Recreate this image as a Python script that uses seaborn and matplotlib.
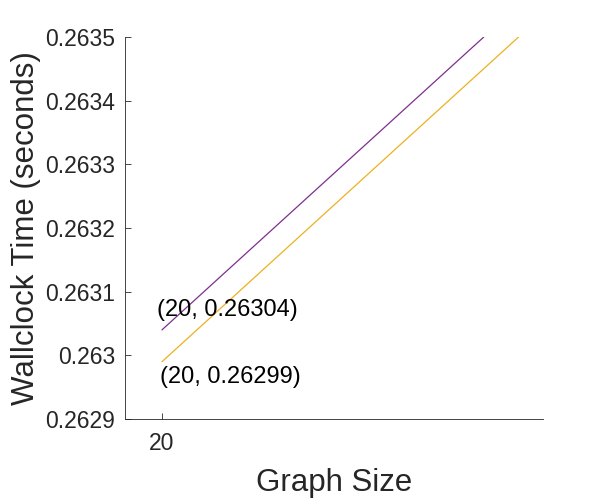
import numpy as np
import pandas as pd
import seaborn as sns
import matplotlib.pyplot as plt

# Valores (segundo punto: donde la linea sale por arriba)
sizes_a = [20, 63.5]
times_a = [0.26304, 0.2635]
sizes_b = [20, 68.2]
times_b = [0.26299, 0.2635]
series_names = ['a', 'b']
line_colors = ['#7E2F8E', '#EDB120']
labels = ['(20, 0.26304)', '(20, 0.26299)']
yticks = [0.2629, 0.263, 0.2631, 0.2632, 0.2633, 0.2634, 0.2635]
ytick_labels = ['0.2629', '0.263', '0.2631', '0.2632', '0.2633', '0.2634', '0.2635']

sns.set_style('ticks')
plt.rcParams['font.family'] = ['Liberation Sans', 'DejaVu Sans']

df = pd.DataFrame({
    'size': sizes_a + sizes_b,
    'time': times_a + times_b,
    'serie': [series_names[0]] * len(sizes_a) + [series_names[1]] * len(sizes_b),
})

fig = plt.figure(figsize=(6, 5), dpi=100)
ax = fig.add_axes([0.2083, 0.162, 0.6967, 0.764])

sns.lineplot(data=df, x='size', y='time', hue='serie', palette=line_colors,
             linewidth=0.9, legend=False, ax=ax)

ax.set_xlim(15, 71.5)
ax.set_ylim(0.2629, 0.2635)
ax.set_xticks([20])
ax.set_xticklabels(['20'])
ax.set_yticks(yticks)
ax.set_yticklabels(ytick_labels)

ax.annotate(labels[0], (sizes_a[0], times_a[0]), xytext=(-3.6, 14.5),
            textcoords='offset points', ha='left', va='center', fontsize=17, color='black')
ax.annotate(labels[1], (sizes_b[0], times_b[0]), xytext=(-1.4, -11),
            textcoords='offset points', ha='left', va='center', fontsize=17, color='black')

ax.tick_params(direction='in', length=4, width=0.6, colors='#262626', labelsize=16.5)
ax.tick_params(axis='x', pad=9)
ax.tick_params(axis='y', pad=7)
for s in ['left', 'bottom']:
    ax.spines[s].set_color('#262626')
    ax.spines[s].set_linewidth(0.6)
sns.despine(ax=ax)

ax.set_xlabel('Graph Size', fontsize=22.5, color='#262626', labelpad=10)
ax.set_ylabel('Wallclock Time (seconds)', fontsize=22.5, color='#262626', labelpad=3)

plt.savefig('out.png', dpi=100)
